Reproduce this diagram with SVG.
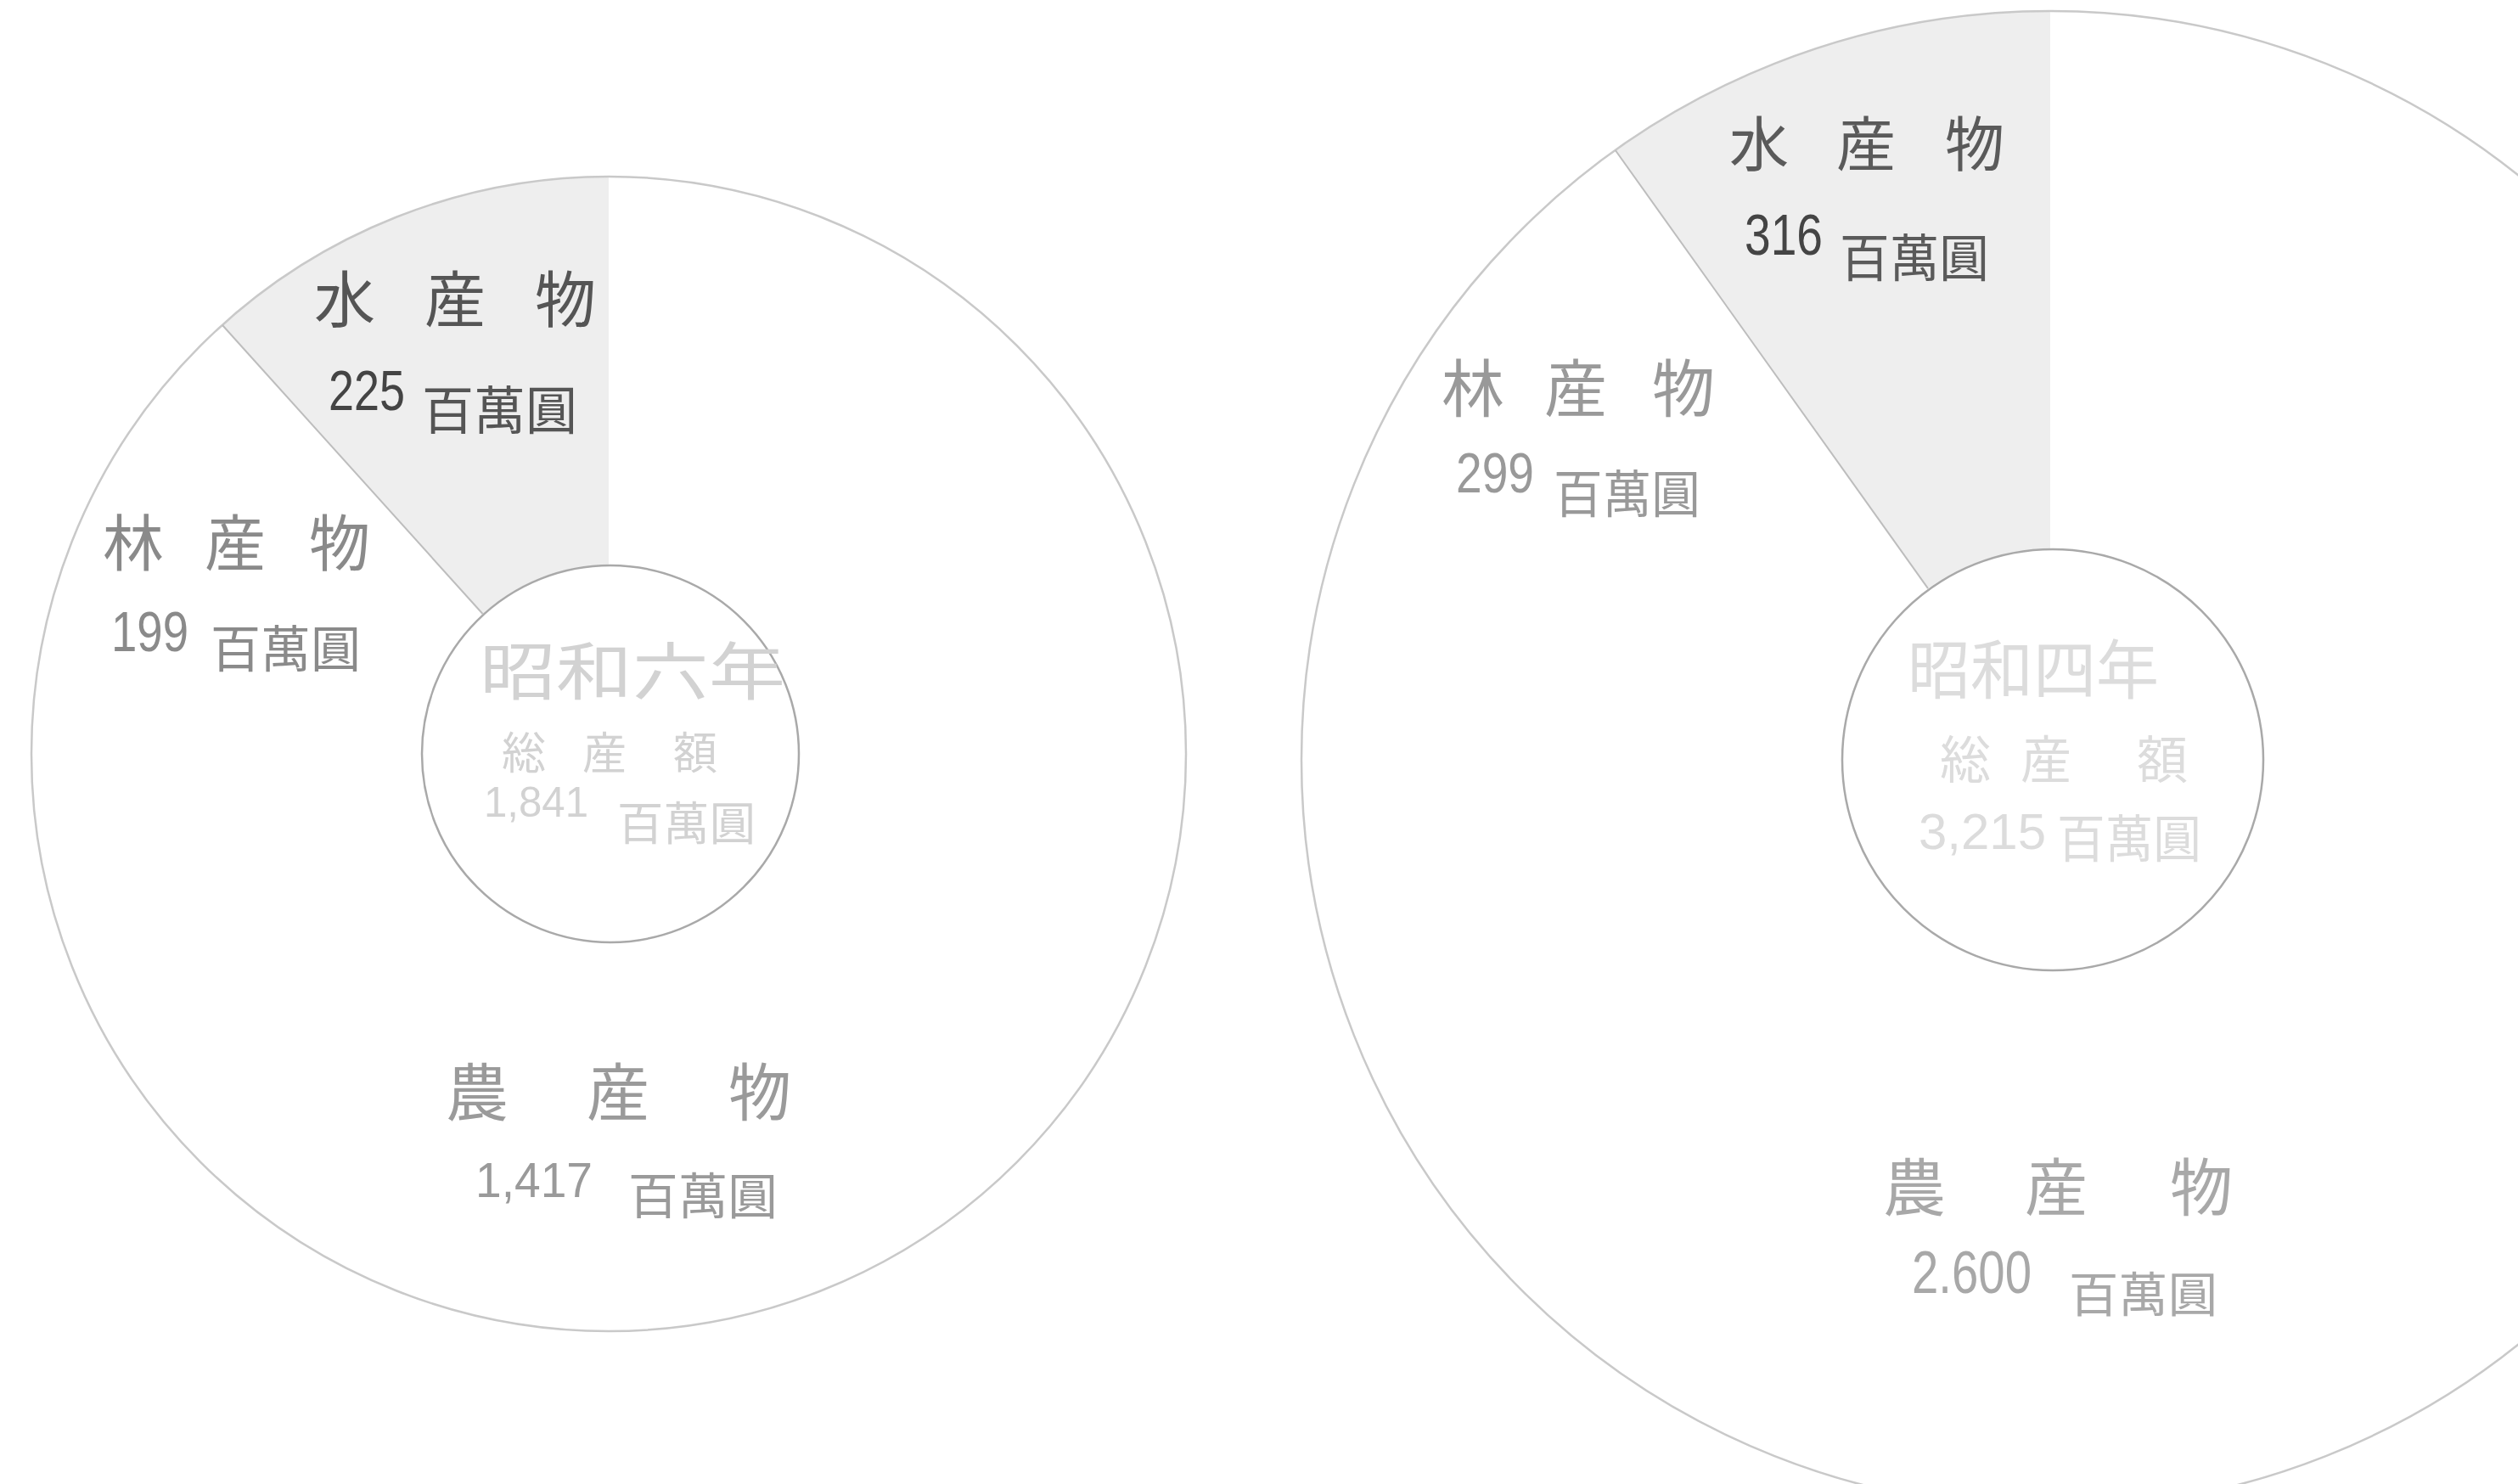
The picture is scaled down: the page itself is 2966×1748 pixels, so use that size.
<svg xmlns="http://www.w3.org/2000/svg" width="2966" height="1748" viewBox="0 0 2966 1748">
<style>
.outer{fill:none;stroke:#c9c9c9;stroke-width:2.5}
.inner{fill:none;stroke:#a9a9a9;stroke-width:2.5}
.sector{fill:#eeeeee;stroke:none}
.div{stroke:#bdbdbd;stroke-width:2;fill:none}
.cjk{font-family:"Noto Sans CJK JP","Noto Sans CJK SC",sans-serif;text-anchor:middle}
.unit{font-family:"Noto Sans CJK JP","Noto Sans CJK SC",serif}
.num{font-family:"Liberation Sans",Arial,sans-serif}
</style>
<rect width="2966" height="1748" fill="#ffffff"/>

<g id="pie-showa6">
  <path class="sector" d="M 262 383 A 680 680 0 0 1 717 208 L 717 666 A 222 222 0 0 0 568.5 723 Z"/>
  <circle class="outer" cx="717" cy="888" r="680"/>
  <circle class="inner" cx="719" cy="888" r="222"/>
</g>

<g id="pie-showa4">
  <path class="sector" d="M 1902.8 177 A 882 882 0 0 1 2415 13 L 2415 647 A 248 248 0 0 0 2271 693.1 Z"/>
  <circle class="outer" cx="2415" cy="895" r="882"/>
  <circle class="inner" cx="2418" cy="895" r="248"/>
</g>

<g id="connectors">
  <line class="div" x1="262" y1="383" x2="568.5" y2="723"/>
  <line class="div" x1="1902.8" y1="177" x2="2271" y2="693.1"/>
</g>

<g id="l-water" fill="#555">
  <text class="cjk" font-size="72" y="379"><tspan x="406">水</tspan><tspan x="536">産</tspan><tspan x="666">物</tspan></text>
  <text class="num" font-size="66" x="387" y="483" textLength="90" lengthAdjust="spacingAndGlyphs" fill="#444">225</text>
  <text class="unit" font-size="61" x="497" y="506" textLength="183" lengthAdjust="spacingAndGlyphs">百萬圓</text>
</g>
<g id="l-forest" fill="#8a8a8a">
  <text class="cjk" font-size="72" y="666"><tspan x="157">林</tspan><tspan x="277">産</tspan><tspan x="400">物</tspan></text>
  <text class="num" font-size="66" x="131" y="767" textLength="91" lengthAdjust="spacingAndGlyphs">199</text>
  <text class="unit" font-size="59" x="248" y="786" textLength="177" lengthAdjust="spacingAndGlyphs">百萬圓</text>
</g>
<g id="l-agri" fill="#9a9a9a">
  <text class="cjk" font-size="74" y="1314"><tspan x="562">農</tspan><tspan x="728">産</tspan><tspan x="895">物</tspan></text>
  <text class="num" font-size="58" x="560" y="1410" textLength="138" lengthAdjust="spacingAndGlyphs">1,417</text>
  <text class="unit" font-size="58" x="740" y="1430" textLength="176" lengthAdjust="spacingAndGlyphs">百萬圓</text>
</g>
<g id="l-total" fill="#d2d2d2">
  <text class="unit" font-size="74" x="565" y="818" textLength="360" lengthAdjust="spacingAndGlyphs">昭和六年</text>
  <text class="cjk" font-size="52" y="906"><tspan x="617">総</tspan><tspan x="712">産</tspan><tspan x="819">額</tspan></text>
  <text class="num" font-size="50" x="570" y="962" textLength="123" lengthAdjust="spacingAndGlyphs">1,841</text>
  <text class="unit" font-size="54" x="727" y="990" textLength="163" lengthAdjust="spacingAndGlyphs">百萬圓</text>
</g>

<g id="r-water" fill="#5a5a5a">
  <text class="cjk" font-size="70" y="196"><tspan x="2072">水</tspan><tspan x="2198">産</tspan><tspan x="2326">物</tspan></text>
  <text class="num" font-size="68" x="2055" y="300" textLength="92" lengthAdjust="spacingAndGlyphs" fill="#444">316</text>
  <text class="unit" font-size="60" x="2167" y="326" textLength="176" lengthAdjust="spacingAndGlyphs">百萬圓</text>
</g>
<g id="r-forest" fill="#999">
  <text class="cjk" font-size="74" y="485"><tspan x="1735">林</tspan><tspan x="1856">産</tspan><tspan x="1983">物</tspan></text>
  <text class="num" font-size="66" x="1715" y="580" textLength="92" lengthAdjust="spacingAndGlyphs">299</text>
  <text class="unit" font-size="60" x="1830" y="604" textLength="173" lengthAdjust="spacingAndGlyphs">百萬圓</text>
</g>
<g id="r-agri" fill="#a8a8a8">
  <text class="cjk" font-size="74" y="1426"><tspan x="2255">農</tspan><tspan x="2422">産</tspan><tspan x="2593">物</tspan></text>
  <text class="num" font-size="70" x="2252" y="1523" textLength="141" lengthAdjust="spacingAndGlyphs">2.600</text>
  <text class="unit" font-size="56" x="2437" y="1545" textLength="175" lengthAdjust="spacingAndGlyphs">百萬圓</text>
</g>
<g id="r-total" fill="#dcdcdc">
  <text class="unit" font-size="76" x="2247" y="817" textLength="296" lengthAdjust="spacingAndGlyphs">昭和四年</text>
  <text class="cjk" font-size="60" y="917"><tspan x="2315">総</tspan><tspan x="2410">産</tspan><tspan x="2547">額</tspan></text>
  <text class="num" font-size="60" x="2260" y="1000" textLength="150" lengthAdjust="spacingAndGlyphs">3,215</text>
  <text class="unit" font-size="60" x="2423" y="1010" textLength="170" lengthAdjust="spacingAndGlyphs">百萬圓</text>
</g>
</svg>
